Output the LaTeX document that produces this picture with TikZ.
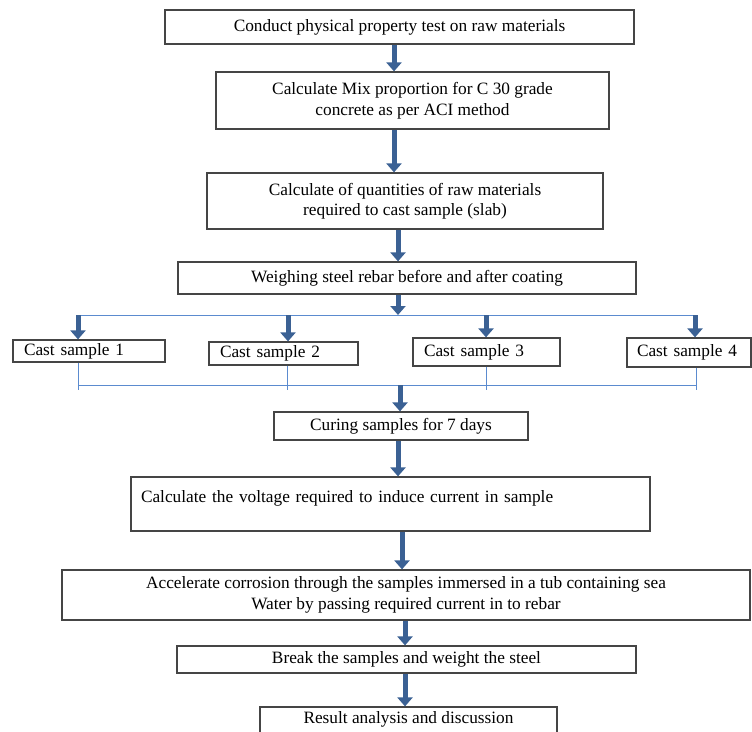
\documentclass[tikz,border=0pt]{standalone}
\usepackage{fontspec}
\setmainfont{Liberation Serif}
\usetikzlibrary{arrows.meta}
\definecolor{flowblue}{HTML}{3B6194}
\definecolor{linkblue}{HTML}{5B8BCF}
\definecolor{boxgray}{HTML}{454545}
\tikzset{
  stage/.style={draw=boxgray, line width=1.2pt, fill=white, align=center, inner sep=2pt,
    font=\fontsize{17.3}{20.5}\selectfont},
  sample/.style={stage, align=left, inner xsep=11pt},
  flow/.style={flowblue, line width=5pt, -{Triangle[width=15pt,length=9pt]}},
  link/.style={linkblue, line width=1pt},
}
\begin{document}
\begin{tikzpicture}[x=1pt,y=-1pt]
	\useasboundingbox (0,0) rectangle (752,731);
	
	% columns of the arrows
	\coordinate (colA) at (394,0);
	\coordinate (colB) at (398,0);
	\coordinate (colC) at (400,0);
	\coordinate (colD) at (402,0);
	\coordinate (colE) at (405,0);
	
	\node[stage, minimum width=469pt, minimum height=34pt] (test) at (399.5,27) {Conduct physical property test on raw materials};
	\node[stage, minimum width=393pt, minimum height=57pt] (mix) at (412.5,100.5) {Calculate Mix proportion for C 30 grade\\ concrete as per ACI method};
	\node[stage, minimum width=396pt, minimum height=56pt] (qty) at (405,201) {Calculate of quantities of raw materials\\ required to cast sample (slab)};
	\node[stage, minimum width=458pt, minimum height=32pt] (weigh) at (407,278) {Weighing steel rebar before and after coating};
	
	\node[sample, minimum width=152pt, minimum height=22pt, text width=130pt] (cast1) at (89,351) {Cast~sample~1};
	\node[sample, minimum width=149pt, minimum height=23pt, text width=127pt] (cast2) at (283.5,353.5) {Cast~sample~2};
	\node[sample, minimum width=147pt, minimum height=28pt, text width=125pt] (cast3) at (486.5,352) {Cast~sample~3};
	\node[sample, minimum width=124pt, minimum height=29pt, text width=104pt, inner xsep=10pt] (cast4) at (689,352.5) {Cast~sample~4};
	
	\node[stage, minimum width=254pt, minimum height=28pt] (cure) at (401,426) {Curing samples for 7 days};
	\node[stage, minimum width=519pt, minimum height=54pt, align=left, text width=499pt, inner xsep=10pt, text depth=15pt] (volt) at (390.5,504) {Calculate the voltage required to induce current in sample};
	\node[stage, minimum width=688pt, minimum height=50pt] (corr) at (406,595) {Accelerate corrosion through the samples immersed in a tub containing sea\\ Water by passing required current in to rebar};
	\node[stage, minimum width=459pt, minimum height=27pt] (brk) at (406.5,659.5) {Break the samples and weight the steel};
	\node[stage, minimum width=297pt, minimum height=40pt, text depth=19pt] (res) at (408.5,727) {Result analysis and discussion};
	
	% split to the samples
	\coordinate (split) at (398,315);
	\draw[link] (78,315) -- (695,315);
	\draw[flow] (test.south -| colA) -- (mix.north -| colA);
	\draw[flow] (mix.south -| colA) -- (qty.north -| colA);
	\draw[flow] (qty.south -| colB) -- (weigh.north -| colB);
	\draw[flow] (weigh.south -| split) -- (split);
	\foreach \i/\x in {1/78,2/288,3/486,4/695}{
		\coordinate (top\i) at (\x,315);
		\draw[flow] (top\i) -- (cast\i.north -| top\i);
	}
	
	% join of the samples
	\foreach \i/\x in {1/78,2/287,3/486,4/696}{
		\coordinate (foot\i) at (\x,390);
		\draw[link] (cast\i.south -| foot\i) -- (foot\i);
	}
	\coordinate (join) at (400,385);
	\draw[link] (78,385) -- (696,385);
	\draw[flow] (join) -- (cure.north -| join);
	
	\draw[flow] (cure.south -| colB) -- (volt.north -| colB);
	\draw[flow] (volt.south -| colD) -- (corr.north -| colD);
	\draw[flow] (corr.south -| colE) -- (brk.north -| colE);
	\draw[flow] (brk.south -| colE) -- (res.north -| colE);
\end{tikzpicture}
\end{document}
